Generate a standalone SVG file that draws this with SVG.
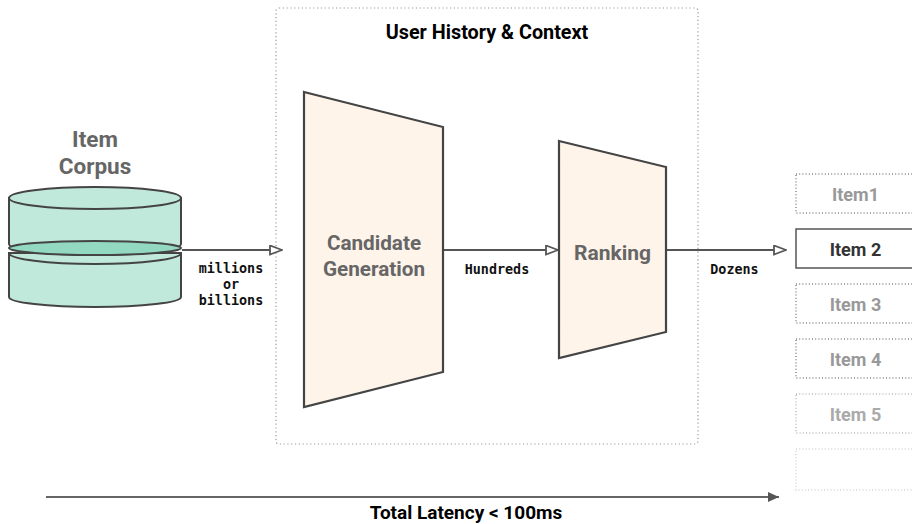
<svg xmlns="http://www.w3.org/2000/svg" width="912" height="524" viewBox="0 0 912 524">
<style>
.lbl{font-family:Roboto,"Liberation Sans",sans-serif;font-weight:bold;text-anchor:middle}
.mono{font-family:"DejaVu Sans Mono","Liberation Mono",monospace;font-weight:bold;font-size:13.4px;fill:#111;text-anchor:middle}
.edge{stroke:#555;stroke-width:2;fill:none}
.cyl{fill:#c1e9db;stroke:#444;stroke-width:2}
.trap{fill:#fef4ea;stroke:#444;stroke-width:2.2}
.item{fill:#fff;stroke-width:1.5}
</style>
<defs>
<marker id="open" markerUnits="userSpaceOnUse" markerWidth="14" markerHeight="12" refX="13" refY="5.5" orient="auto">
<path d="M1,1 L13,5.5 L1,10 Z" fill="#fff" stroke="#555" stroke-width="1.8"/>
</marker>
<marker id="solid" markerUnits="userSpaceOnUse" markerWidth="12" markerHeight="12" refX="11" refY="5" orient="auto">
<path d="M0,0 L11,5 L0,10 Z" fill="#555"/>
</marker>
</defs>
<rect width="912" height="524" fill="#fff"/>

<g id="context-box">
<rect x="276" y="8" width="422" height="436" rx="3" fill="none" stroke="#999" stroke-width="1.2" stroke-dasharray="1.2,2.6"/>
<text class="lbl" x="487" y="39" font-size="19.8" fill="#000">User History &amp; Context</text>
</g>

<g id="connectors">
<line class="edge" x1="182" y1="250" x2="282" y2="250" marker-end="url(#open)"/>
<line class="edge" x1="444" y1="250" x2="558" y2="250" marker-end="url(#open)"/>
<line class="edge" x1="667" y1="250" x2="786" y2="250" marker-end="url(#open)"/>
<line x1="46" y1="497" x2="779" y2="497" stroke="#666" stroke-width="2" marker-end="url(#solid)"/>
<text class="mono" x="231" y="273">millions</text>
<text class="mono" x="231" y="289">or</text>
<text class="mono" x="231" y="305">billions</text>
<text class="mono" x="497" y="274">Hundreds</text>
<text class="mono" x="734.5" y="274">Dozens</text>
<text class="lbl" x="466" y="519" font-size="19" fill="#000">Total Latency &lt; 100ms</text>
</g>

<g id="item-corpus">
<text class="lbl" x="95" y="146.5" font-size="22.5" fill="#666">Item</text>
<text class="lbl" x="95" y="173.5" font-size="22.5" fill="#666">Corpus</text>
<path class="cyl" d="M9,253 L9,297 A86,10 0 0 0 181,297 L181,253 Z"/>
<path class="cyl" d="M9,198 L9,244 A86,11 0 0 0 181,244 L181,198 Z"/>
<ellipse class="cyl" cx="95" cy="198" rx="86" ry="11"/>
<ellipse cx="95" cy="248" rx="86" ry="7" fill="#93d8c1" stroke="#444" stroke-width="2"/>
<path d="M9,253 A86,11 0 0 0 181,253" fill="none" stroke="#444" stroke-width="2"/>
</g>

<g id="candidate-generation">
<polygon class="trap" points="304,92 443,127 443,372 304,407"/>
<text class="lbl" x="374" y="250" font-size="20.7" fill="#666">Candidate</text>
<text class="lbl" x="374" y="275.5" font-size="20.7" fill="#666">Generation</text>
</g>

<g id="ranking">
<polygon class="trap" points="559,141 666,167 666,332 559,358"/>
<text class="lbl" x="612.5" y="259.5" font-size="21" fill="#666">Ranking</text>
</g>

<g id="item1">
<rect class="item" x="796" y="174" width="130" height="39" stroke="#888" stroke-dasharray="1,2.2"/>
<text class="lbl" x="855.5" y="200.5" font-size="18" fill="#999">Item1</text>
</g>
<g id="item2">
<rect class="item" x="796" y="229" width="130" height="39" stroke="#555"/>
<text class="lbl" x="855.5" y="256" font-size="18" fill="#333">Item 2</text>
</g>
<g id="item3">
<rect class="item" x="796" y="284" width="130" height="39" stroke="#888" stroke-dasharray="1,2.2"/>
<text class="lbl" x="855.5" y="311" font-size="18" fill="#999">Item 3</text>
</g>
<g id="item4">
<rect class="item" x="796" y="339" width="130" height="39" stroke="#888" stroke-dasharray="1,2.2"/>
<text class="lbl" x="855.5" y="366" font-size="18" fill="#999">Item 4</text>
</g>
<g id="item5">
<rect class="item" x="796" y="394" width="130" height="39" stroke="#bbb" stroke-dasharray="1,2.2"/>
<text class="lbl" x="855.5" y="421" font-size="18" fill="#aaa">Item 5</text>
</g>
<g id="item6">
<rect class="item" x="796" y="449" width="130" height="41" stroke="#d4d4d4" stroke-dasharray="1,2.2"/>
</g>
</svg>
